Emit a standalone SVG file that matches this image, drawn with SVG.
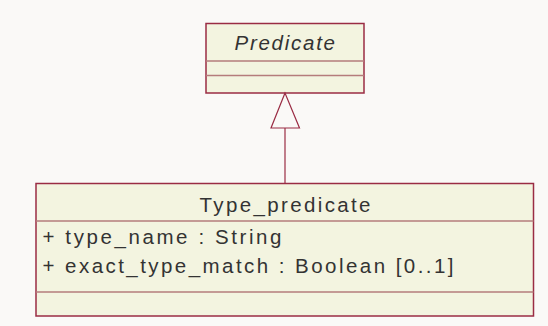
<svg xmlns="http://www.w3.org/2000/svg" width="548" height="326" viewBox="0 0 548 326">
<style>
.box{fill:#f3f4e0;stroke:#9a2c44;stroke-width:1.5}
.div{stroke:#b57c7c;stroke-width:1.5;fill:none}
.t{font-family:"Liberation Sans",Arial,sans-serif;fill:#333;font-size:20.5px}
.edge{stroke:#9a2c44;stroke-width:1.2;fill:none}
</style>
<rect width="548" height="326" fill="#faf9f7"/>
<g id="Predicate">
<rect class="box" x="206" y="23.5" width="158" height="69.5"/>
<line class="div" x1="206" y1="61" x2="364" y2="61"/>
<line class="div" x1="206" y1="75.5" x2="364" y2="75.5"/>
<text class="t" x="234.5" y="50" font-style="italic" font-size="21.5" textLength="100.5" lengthAdjust="spacing">Predicate</text>
</g>
<g id="Type_predicate">
<rect class="box" x="36" y="183.5" width="497.5" height="132.5"/>
<line class="div" x1="36" y1="221" x2="533.5" y2="221"/>
<line class="div" x1="36" y1="292" x2="533.5" y2="292"/>
<text class="t" x="199.5" y="211.5" font-size="22" textLength="171" lengthAdjust="spacing">Type_predicate</text>
<text class="t" x="42.5" y="244.3" textLength="239" lengthAdjust="spacing">+ type_name : String</text>
<text class="t" x="42.5" y="273.3" textLength="411" lengthAdjust="spacing">+ exact_type_match : Boolean [0..1]</text>
</g>
<g id="connectors">
<line class="edge" x1="285" y1="128" x2="285" y2="183.5"/>
<polygon class="edge" points="285,93 271,128 299.5,128" fill="#ffffff"/>
</g>
</svg>
